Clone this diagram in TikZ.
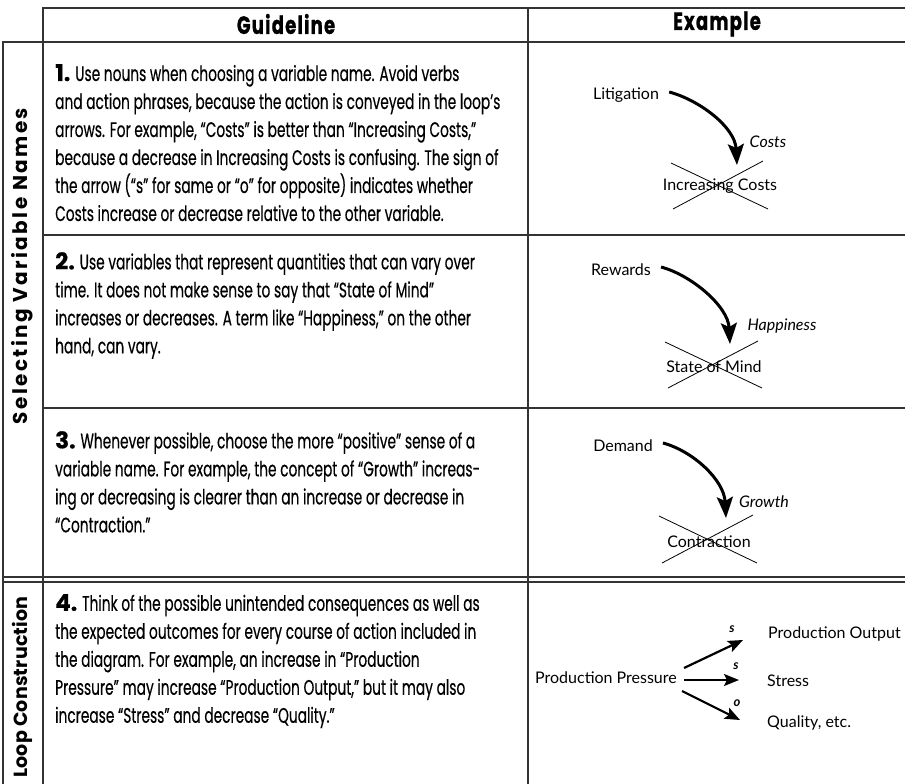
\documentclass[tikz,border=0pt]{standalone}
\usepackage{fontspec}
\setmainfont{Poppins}
\newfontfamily\condfont{Poppins}[FakeStretch=0.655,FakeBold=0.35]
\newfontfamily\headfont{Poppins}[FakeStretch=0.72,LetterSpace=5,FakeBold=0.8]
\newfontfamily\labfont{Poppins}[LetterSpace=12]
\newfontfamily\labfontb{Poppins}[LetterSpace=1]
\newfontfamily\numfont{Poppins}[FakeBold=0.6]
\newfontfamily\exfont{Lato}
\usetikzlibrary{arrows.meta,calc}
\newcommand{\gnum}[1]{{\numfont\bfseries\fontsize{23}{28}\selectfont #1}}
\begin{document}
\begin{tikzpicture}[x=1pt,y=-1pt,
  tbl/.style={line width=1.1pt,draw=black!80},
  guide/.style={anchor=north west,align=left,inner sep=0pt,font=\condfont\fontsize{21}{28}\selectfont},
  hd/.style={font=\headfont\bfseries\fontsize{25}{28}\selectfont,inner sep=0pt},
  lab/.style={font=\labfont\bfseries\fontsize{20}{22}\selectfont,inner sep=0pt,rotate=90},
  ex/.style={font=\exfont\fontsize{16}{18}\selectfont,inner sep=2pt},
  exi/.style={font=\exfont\itshape\fontsize{16}{18}\selectfont,inner sep=2pt},
  sgn/.style={font=\exfont\bfseries\itshape\fontsize{13}{14}\selectfont,inner sep=0pt},
  xline/.style={line width=0.8pt,draw=black},
  carrow/.style={line width=3pt,-{Stealth[length=21pt,width=16pt,inset=4pt]}},
  sarrow/.style={line width=2.2pt,-{Stealth[length=15pt,width=12pt,inset=3pt]}}
]
\useasboundingbox (0,0) rectangle (905,784);
\fill[white] (0,0) rectangle (905,784);

% table lines
\draw[tbl] (43,42) -- (43,8) -- (905,8);
\draw[tbl] (528,8) -- (528,784);
\draw[tbl] (3,784) -- (3,42) -- (905,42);
\draw[tbl] (43,42) -- (43,784);
\draw[tbl] (43,235) -- (905,235);
\draw[tbl] (43,408) -- (905,408);
\draw[tbl] (3,577) -- (905,577);
\draw[tbl] (3,582) -- (905,582);

% headers
\node[hd] (hg) at (286,24) {Guideline};
\node[hd] (he) at (717,24) {Example};

% side labels
\node[lab] (l1) at (22,266) {Selecting Variable Names};
\node[lab,font=\labfontb\bfseries\fontsize{19}{22}\selectfont] (l2) at (22,687) {Loop Construction};

% guideline texts
\node[guide] (t1) at (55,64) {\gnum{1.} Use nouns when choosing a variable name. Avoid verbs\\
and action phrases, because the action is conveyed in the loop’s\\
arrows. For example, “Costs” is better than “Increasing Costs,”\\
because a decrease in Increasing Costs is confusing. The sign of\\
the arrow (“s” for same or “o” for opposite) indicates whether\\
Costs increase or decrease relative to the other variable.};

\node[guide] (t2) at (55,252) {\gnum{2.} Use variables that represent quantities that can vary over\\
time. It does not make sense to say that “State of Mind”\\
increases or decreases. A term like “Happiness,” on the other\\
hand, can vary.};

\node[guide] (t3) at (55,431) {\gnum{3.} Whenever possible, choose the more “positive” sense of a\\
variable name. For example, the concept of “Growth” increas-\\
ing or decreasing is clearer than an increase or decrease in\\
“Contraction.”};

\node[guide] (t4) at (55,594) {\gnum{4.} Think of the possible unintended consequences as well as\\
the expected outcomes for every course of action included in\\
the diagram. For example, an increase in “Production\\
Pressure” may increase “Production Output,” but it may also\\
increase “Stress” and decrease “Quality.”};

% example 1
\node[ex] (lit) at (626,95) {Litigation};
\node[exi] (costs) at (768,142) {Costs};
\node[ex] (inc) at (720,186) {Increasing Costs};
\coordinate (tip1) at (737,165);
\draw[carrow] ([xshift=8pt,yshift=3pt]lit.east) .. controls +(30,8) and +(-2,-38) .. (tip1);
\draw[xline] ($(inc.center)+(-49,-23)$) -- ($(inc.center)+(48,23)$);
\draw[xline] ($(inc.center)+(-47,23)$) -- ($(inc.center)+(43,-25)$);

% example 2
\node[ex] (rew) at (621,270) {Rewards};
\node[exi] (hap) at (782,326) {Happiness};
\node[ex] (som) at (714,367) {State of Mind};
\coordinate (tip2) at (730,344);
\draw[carrow] ([xshift=8pt,yshift=3pt]rew.east) .. controls +(30,8) and +(-2,-38) .. (tip2);
\draw[xline] ($(som.center)+(-49,-25)$) -- ($(som.center)+(48,21)$);
\draw[xline] ($(som.center)+(-46,21)$) -- ($(som.center)+(44,-26)$);

% example 3
\node[ex] (dem) at (623,446) {Demand};
\node[exi] (gro) at (764,502) {Growth};
\node[ex] (con) at (709,542) {Contraction};
\coordinate (tip3) at (726,518);
\draw[carrow] ([xshift=8pt,yshift=3pt]dem.east) .. controls +(30,8) and +(-2,-38) .. (tip3);
\draw[xline] ($(con.center)+(-50,-26)$) -- ($(con.center)+(48,21)$);
\draw[xline] ($(con.center)+(-47,21)$) -- ($(con.center)+(44,-27)$);

% example 4
\node[ex] (pp) at (606,678) {Production Pressure};
\node[ex,anchor=west] (po) at (766,634) {Production Output};
\node[ex,anchor=west] (st) at (765,681) {Stress};
\node[ex,anchor=west] (qu) at (765,723) {Quality, etc.};
\draw[sarrow] ([shift={(5,-10)}]pp.east) -- ([shift={(-23,6)}]po.west);
\draw[sarrow] ([shift={(5,2)}]pp.east) -- ([shift={(-26,-1)}]st.west);
\draw[sarrow] ([shift={(3,13)}]pp.east) -- ([shift={(-25,-3)}]qu.west);
\node[sgn] (s1) at (732,629) {s};
\node[sgn] (s2) at (736,666) {s};
\node[sgn] (s3) at (737,703) {o};
\end{tikzpicture}
\end{document}
